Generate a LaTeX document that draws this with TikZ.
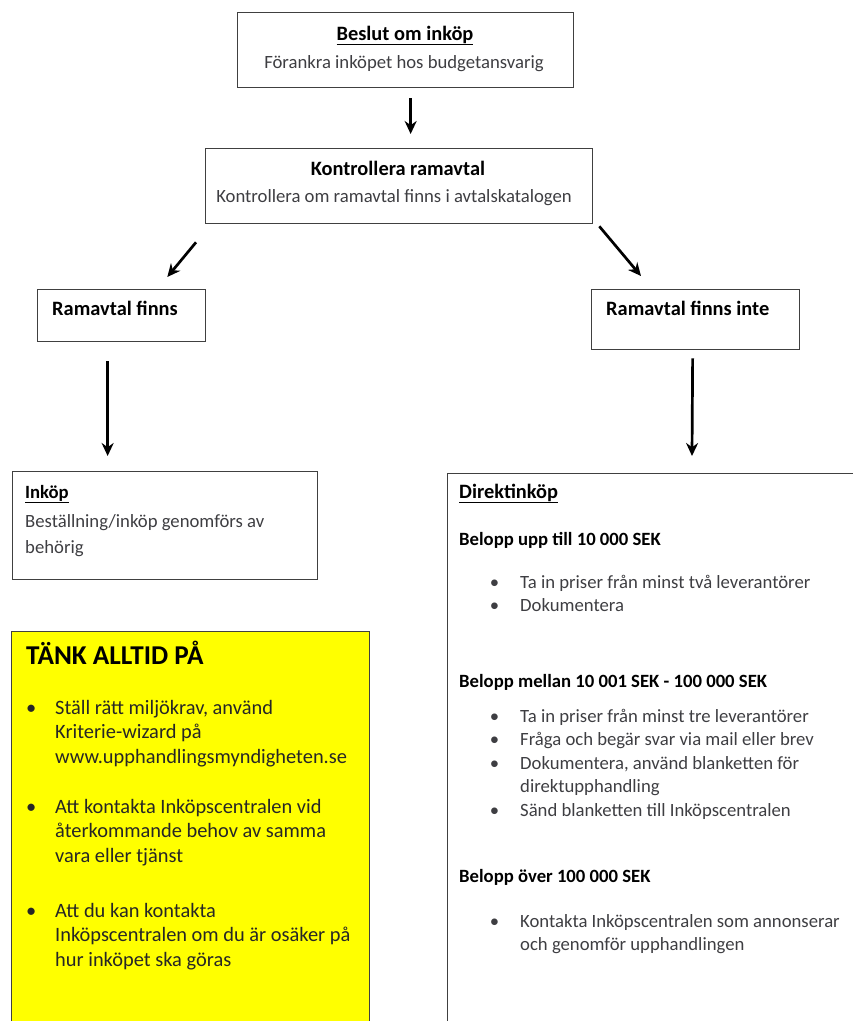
\documentclass[tikz,border=0pt]{standalone}
\usepackage{fontspec}
\setmainfont{Carlito}
\usetikzlibrary{arrows.meta}

\definecolor{gul}{RGB}{255,255,0}
\definecolor{brodgra}{RGB}{62,62,66}

\newcommand{\rader}[1]{\begin{tabular}[t]{@{}l@{}}#1\end{tabular}}
\newcommand{\pkt}[1]{\llap{\textbullet\hskip #1}}

\tikzset{
  ruta/.style={draw=black!75, line width=1.3pt, anchor=north west, inner sep=0pt},
  pil/.style={-{Stealth[length=13pt,width=12pt]}, line width=2.7pt},
  rubrik/.style={font=\bfseries\fontsize{20.4}{25}\selectfont, inner sep=0pt, anchor=base},
  belopp/.style={font=\bfseries\fontsize{18.7}{23.5}\selectfont, inner sep=0pt, anchor=base west},
  brod/.style={font=\fontsize{18.7}{23.5}\selectfont, text=brodgra, inner sep=0pt, anchor=base west},
  gultext/.style={font=\fontsize{20.4}{24.7}\selectfont, text=black!85, inner sep=0pt, anchor=base west},
}

\begin{document}
\begin{tikzpicture}[x=1pt,y=-1pt]
\useasboundingbox (0,0) rectangle (853,1021);
\clip (0,0) rectangle (853,1021);

\node[ruta, minimum width=336pt, minimum height=75pt] (beslut) at (237,12) {};
\node[ruta, minimum width=387pt, minimum height=75pt] (kontroll) at (205,148) {};
\node[ruta, minimum width=168pt, minimum height=52pt] (finns) at (37,289) {};
\node[ruta, minimum width=208pt, minimum height=60pt] (finnsinte) at (591,289) {};
\node[ruta, minimum width=305pt, minimum height=108pt] (inkop) at (12,471) {};
\node[ruta, minimum width=450pt, minimum height=600pt] (direkt) at (447,473) {};
\node[ruta, fill=gul, minimum width=358pt, minimum height=420pt] (tank) at (11,631) {};

\node[rubrik] (beslutrub) at (405,40) {\underline{Beslut om inköp}};
\node[brod, anchor=base] (beslutbrod) at (404,68) {Förankra inköpet hos budgetansvarig};

\node[rubrik] (kontrollrub) at (398,175) {Kontrollera ramavtal};
\node[brod, anchor=base] (kontrollbrod) at (394,202) {Kontrollera om ramavtal finns i avtalskatalogen};

\node[rubrik, anchor=base west] (finnsrub) at (52,315) {Ramavtal finns};
\node[rubrik, anchor=base west] (finnsinterub) at (606,315) {Ramavtal finns inte};

\node[belopp] (inkoprub) at (25,498) {\underline{Inköp}};
\node[brod, font=\fontsize{18.7}{26}\selectfont] (inkopbrod) at (25,527)
  {\rader{Beställning/inköp genomförs av\\ behörig}};

\node[rubrik, anchor=base west] (direktrub) at (459,498) {\underline{Direktinköp}};
\node[belopp] (belopp1) at (459,545) {Belopp upp till 10 000 SEK};
\node[brod] (lista1) at (520,588)
  {\rader{\pkt{21pt}Ta in priser från minst två leverantörer\\ \pkt{21pt}Dokumentera}};
\node[belopp] (belopp2) at (459,687) {Belopp mellan 10 001 SEK - 100 000 SEK};
\node[brod] (lista2) at (520,722)
  {\rader{\pkt{21pt}Ta in priser från minst tre leverantörer\\
          \pkt{21pt}Fråga och begär svar via mail eller brev\\
          \pkt{21pt}Dokumentera, använd blanketten för\\
          direktupphandling\\
          \pkt{21pt}Sänd blanketten till Inköpscentralen}};
\node[belopp] (belopp3) at (459,882) {Belopp över 100 000 SEK};
\node[brod] (lista3) at (520,927)
  {\rader{\pkt{21pt}Kontakta Inköpscentralen som annonserar\\ och genomför upphandlingen}};

\node[belopp, font=\bfseries\fontsize{27.2}{32}\selectfont] (tankrub) at (26,664) {TÄNK ALLTID PÅ};
\node[gultext] (tank1) at (55,714)
  {\rader{\pkt{19pt}Ställ rätt miljökrav, använd\\ Kriterie-wizard på\\ www.upphandlingsmyndigheten.se}};
\node[gultext] (tank2) at (55,813)
  {\rader{\pkt{19pt}Att kontakta Inköpscentralen vid\\ återkommande behov av samma\\ vara eller tjänst}};
\node[gultext] (tank3) at (55,917)
  {\rader{\pkt{19pt}Att du kan kontakta\\ Inköpscentralen om du är osäker på\\ hur inköpet ska göras}};

\draw[pil] ([xshift=5pt,yshift=-10pt]beslut.south) -- ([xshift=11.5pt,yshift=14pt]kontroll.north);
\draw[pil] ([xshift=-9pt,yshift=-18pt]kontroll.south west) -- ([xshift=-39pt,yshift=12pt]finns.north east);
\draw[pil] ([xshift=6pt,yshift=-2pt]kontroll.south east) -- ([xshift=50pt,yshift=13pt]finnsinte.north west);
\draw[pil] ([xshift=-14pt,yshift=-19pt]finns.south) -- ([xshift=-57.5pt,yshift=15pt]inkop.north);
\draw[pil] ([xshift=-3pt,yshift=-8pt]finnsinte.south) -- ([xshift=245pt,yshift=17pt]direkt.north west);
\end{tikzpicture}
\end{document}
